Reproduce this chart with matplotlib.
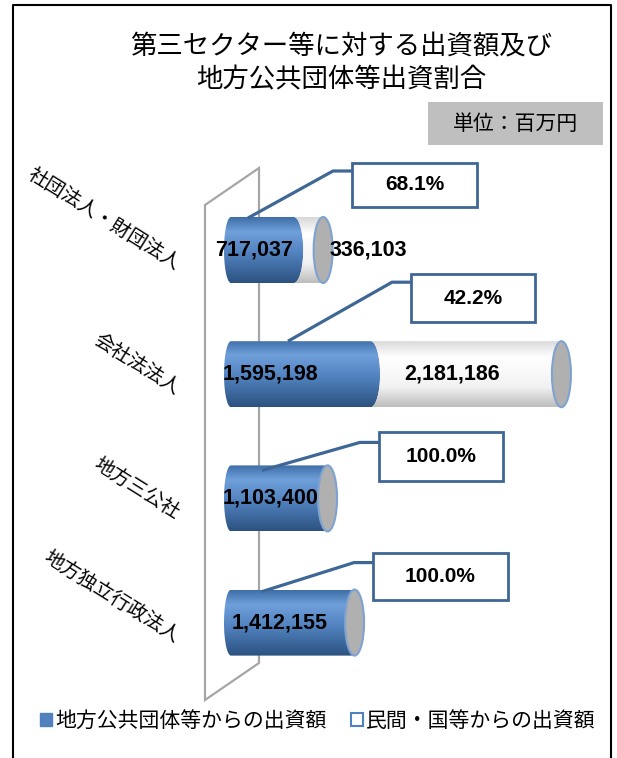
import numpy as np
import matplotlib
matplotlib.use('Agg')
import matplotlib.pyplot as plt
import matplotlib.transforms as mtransforms
from matplotlib.patches import Ellipse, Rectangle, Polygon, Patch
from matplotlib.colors import to_rgb
from matplotlib.lines import Line2D

plt.rcParams['font.family'] = ['Noto Sans CJK JP', 'DejaVu Sans']

# データ（単位：百万円）
categories = ['社団法人・財団法人', '会社法法人', '地方三公社', '地方独立行政法人']
local_gov = [717037, 1595198, 1103400, 1412155]     # 地方公共団体等からの出資額
private = [336103, 2181186, 0, 0]                  # 民間・国等からの出資額
title = '第三セクター等に対する出資額及び\n地方公共団体等出資割合'
unit_label = '単位：百万円'
legend_labels = ['地方公共団体等からの出資額', '民間・国等からの出資額']

W, H = 617, 758
fig = plt.figure(figsize=(W / 100, H / 100), dpi=100)
ax = fig.add_axes([0, 0, 1, 1])
ax.axis('off')

# スケール（ピクセル換算）
X_PER_PX = 1 / 8.75e-5
ROW_PX = 124.2
ax.set_xlim(-231 * X_PER_PX, (W - 231) * X_PER_PX)
ax.set_ylim((H - 250) / ROW_PX, -250 / ROW_PX)

top_px = mtransforms.Affine2D().scale(1, -1).translate(0, H)  # (x, 上からのy) -> display

BLUE_DARK = '#3f6795'
bar_h = 66 / ROW_PX
cap_a = 9.5 * X_PER_PX
left_a = 7 * X_PER_PX
b = bar_h / 2
t = np.linspace(-np.pi / 2, np.pi / 2, 80)


def grad_img(stops):
    n = 100
    pos = np.linspace(0, 1, n)
    cols = np.array([to_rgb(c) for _, c in stops])
    ps = [p for p, _ in stops]
    img = np.stack([np.interp(pos, ps, cols[:, k]) for k in range(3)], axis=-1)
    return img[:, None, :]


blue_img = grad_img([(0, '#3f6ea8'), (0.22, '#70a0da'), (0.55, '#5182bf'), (1, '#2c5280')])
white_img = grad_img([(0, '#d8d8d8'), (0.25, '#ffffff'), (0.7, '#f2f2f2'), (1, '#bdbdbd')])


def right_half(xc, yc):
    return np.column_stack([xc + cap_a * np.cos(t), yc + b * np.sin(t)])


def left_half(xc, yc):
    return np.column_stack([xc - left_a * np.cos(t), yc - b * np.sin(t)])


def fill_shape(verts, img, x0, x1, yc, z):
    patch = Polygon(verts, closed=True, facecolor='none', edgecolor='none')
    ax.add_patch(patch)
    im = ax.imshow(img, extent=(x0, x1, yc + b, yc - b), origin='upper',
                   aspect='auto', zorder=z, interpolation='bilinear')
    im.set_clip_path(patch)


# 奥の壁（棒の後ろに描く）
wall = Polygon([(205, 205), (259, 168), (259, 663), (205, 700)], closed=True,
               fill=False, edgecolor='#a6a6a6', linewidth=1.6,
               transform=top_px, zorder=1, clip_on=False)
ax.add_patch(wall)

lbl_dx_blue = [-8, -30, -9, -13]
lbl_dx_white = [60, -14, 0, 0]
num_font = dict(family=['Liberation Sans', 'DejaVu Sans'], fontweight='bold',
                fontsize=15.5, color='black')

for i, (v1, v2) in enumerate(zip(local_gov, private)):
    yc = i
    xb = v1
    xt = v1 + v2
    blue = np.vstack([right_half(xb, yc), left_half(0, yc)])
    fill_shape(blue, blue_img, -left_a, xb + cap_a, yc, 3)
    if v2 > 0:
        white = np.vstack([right_half(xt, yc), right_half(xb, yc)[::-1]])
        fill_shape(white, white_img, xb, xt + cap_a, yc, 3)
    ax.add_patch(Ellipse((xt, yc), 2 * cap_a, bar_h, facecolor='#b0b0b0',
                         edgecolor='#7ea3d0', linewidth=1.5, zorder=4))
    ax.annotate(f'{v1:,}', xy=(v1 / 2, yc), xytext=(lbl_dx_blue[i], 0),
                textcoords='offset pixels', ha='center', va='center', zorder=6, **num_font)
    if v2 > 0:
        ax.annotate(f'{v2:,}', xy=(v1 + v2 / 2, yc), xytext=(lbl_dx_white[i], 0),
                    textcoords='offset pixels', ha='center', va='center', zorder=6, **num_font)
    # カテゴリラベル
    ax.annotate(categories[i], xy=(0, yc), xytext=(-53, -16), textcoords='offset pixels',
                ha='right', va='center', rotation=-32, rotation_mode='anchor',
                fontsize=14, color='black')

# 割合の吹き出し
anchor_dx = [17, 57, 31, 31]
anchor_dy = [1, 0, 5, 2]
box_dx = [104, 123, 117, 111]
rise = [47, 59, 28, 29]
box_w = [125, 124, 124, 135]
box_h = [44, 48, 49, 47]
box_gap = [8, 8, 10, 10]

for i, (v1, v2) in enumerate(zip(local_gov, private)):
    share = v1 / (v1 + v2) * 100
    ax0, ay0 = ax.transData.transform((0, i - b))
    axp, ayp = ax0 + anchor_dx[i], ay0 - anchor_dy[i]
    ly = ayp + rise[i]
    bl = axp + box_dx[i]
    fig.add_artist(Line2D([axp, bl - 19, bl], [ayp, ly, ly], color=BLUE_DARK, lw=2.3,
                          solid_capstyle='butt', transform=mtransforms.IdentityTransform(),
                          zorder=7))
    btop = ly + box_gap[i]
    fig.add_artist(Rectangle((bl, btop - box_h[i]), box_w[i], box_h[i], facecolor='white',
                             edgecolor=BLUE_DARK, linewidth=2.0,
                             transform=mtransforms.IdentityTransform(), zorder=8))
    fig.text(bl + box_w[i] / 2, btop - box_h[i] / 2, f'{share:.1f}%',
             transform=mtransforms.IdentityTransform(), ha='center', va='center',
             zorder=9, **{**num_font, 'fontsize': 15})

# タイトル
fig.text(341, 63, title, transform=top_px, ha='center', va='center',
         fontsize=19, linespacing=1.3)

# 単位
fig.add_artist(Rectangle((428, 102), 175, 43, facecolor='#bfbfbf', edgecolor='none',
                         transform=top_px, zorder=2))
fig.text(515, 124, unit_label, transform=top_px, ha='center', va='center', fontsize=15,
         zorder=3)

# 外枠
fig.add_artist(Line2D([13, 13, 611, 611], [H, 5, 5, H], color='black', lw=1.5,
                      transform=top_px))

# 凡例
handles = [Patch(facecolor='#4f81bd', edgecolor='#4f81bd'),
           Patch(facecolor='white', edgecolor='#4f81bd', linewidth=1.5)]
fig.legend(handles, legend_labels, loc='center', bbox_to_anchor=(318 / W, 1 - 721 / H),
           ncol=2, frameon=False, fontsize=15, handlelength=0.55, handleheight=0.55,
           handletextpad=0.15, columnspacing=1.2)

fig.savefig('out.png', dpi=100)
plt.close(fig)
